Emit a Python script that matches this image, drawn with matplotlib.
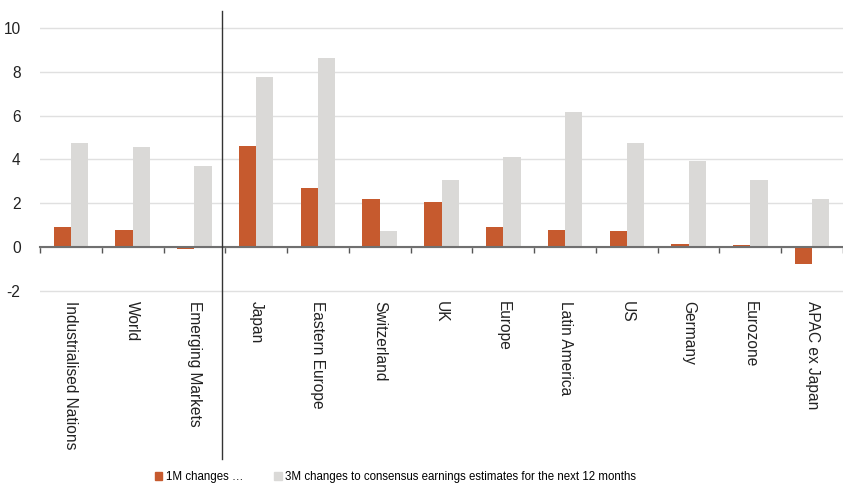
import matplotlib
matplotlib.use("Agg")
import matplotlib.pyplot as plt
import matplotlib.transforms as mtransforms
from matplotlib.lines import Line2D
from matplotlib.patches import Patch
import numpy as np

plt.rcParams['font.family'] = ['Liberation Sans', 'DejaVu Sans']

categories = ["Industrialised Nations", "World", "Emerging Markets", "Japan",
              "Eastern Europe", "Switzerland", "UK", "Europe", "Latin America",
              "US", "Germany", "Eurozone", "APAC ex Japan"]
changes_1m = [0.9, 0.77, -0.1, 4.63, 2.71, 2.2, 2.04, 0.93, 0.76, 0.72, 0.15, 0.1, -0.79]
changes_3m = [4.77, 4.58, 3.72, 7.77, 8.65, 0.72, 3.04, 4.09, 6.17, 4.76, 3.95, 3.08, 2.2]
series_names = ["1M changes \u2026",
                "3M changes to consensus earnings estimates for the next 12 months"]
y_ticks = [-2, 0, 2, 4, 6, 8, 10]

c_1m = "#C65A2E"
c_3m = "#DAD9D7"

W, H = 843, 486
px_per_unit = 21.9
y_bottom = -2.1
y_top = 10.78
ax_bottom_px = 247 - y_bottom * px_per_unit  # pixel row of the lower limit
fig = plt.figure(figsize=(W / 100, H / 100), dpi=100)
ax = fig.add_axes([40 / W, 1 - ax_bottom_px / H, 1 - 40 / W, (ax_bottom_px - 11) / H])

x = np.arange(len(categories))
bw = 0.28
ax.bar(x - bw / 2, changes_1m, bw, color=c_1m, zorder=2)
ax.bar(x + bw / 2, changes_3m, bw, color=c_3m, zorder=2)

ax.set_xlim(-0.5, len(categories) - 0.5 - 8 / 62.3)
ax.set_ylim(y_bottom, y_top)
ax.set_yticks(y_ticks)
ax.set_yticklabels([str(v) for v in y_ticks], fontsize=11.2, color="#222222")
ax.tick_params(axis='y', length=0, pad=14)
ax.grid(axis='y', color="#E0E0E0", linewidth=1.0, zorder=0)
ax.set_axisbelow(True)

for s in ["left", "right", "top"]:
    ax.spines[s].set_visible(False)
ax.spines["bottom"].set_position(("data", 0))
ax.spines["bottom"].set_color("#707070")
ax.spines["bottom"].set_linewidth(1.5)
ax.spines["bottom"].set_zorder(3)
ax.set_xticks(np.arange(len(categories) + 1) - 0.5)
ax.set_xticklabels([])
ax.tick_params(axis='x', direction='out', length=4, width=1, color="#555555")

# category names, rotated, below the plotting area
lab_tr = mtransforms.blended_transform_factory(ax.transData, fig.transFigure)
for xi, name in zip(x, categories):
    ax.text(xi, 1 - 301 / H, name, rotation=-90, ha='center', va='top',
            fontsize=11.2, color="#222222", transform=lab_tr, clip_on=False)

# separator between aggregates and regions
sep = Line2D([2.44, 2.44], [1 - 11 / H, 1 - 459 / H], transform=lab_tr,
             color="#333333", linewidth=1.0, clip_on=False, zorder=4)
ax.add_line(sep)

handles = [Patch(color=c_1m), Patch(color=c_3m)]
fig.legend(handles, series_names, loc='center left', bbox_to_anchor=(155 / W, 1 - 477 / H),
           ncol=2, frameon=False, fontsize=8.3, handlelength=0.65, handleheight=0.65,
           handletextpad=0.3, columnspacing=2.7, borderpad=0, borderaxespad=0)

fig.savefig("out.png", dpi=100)
